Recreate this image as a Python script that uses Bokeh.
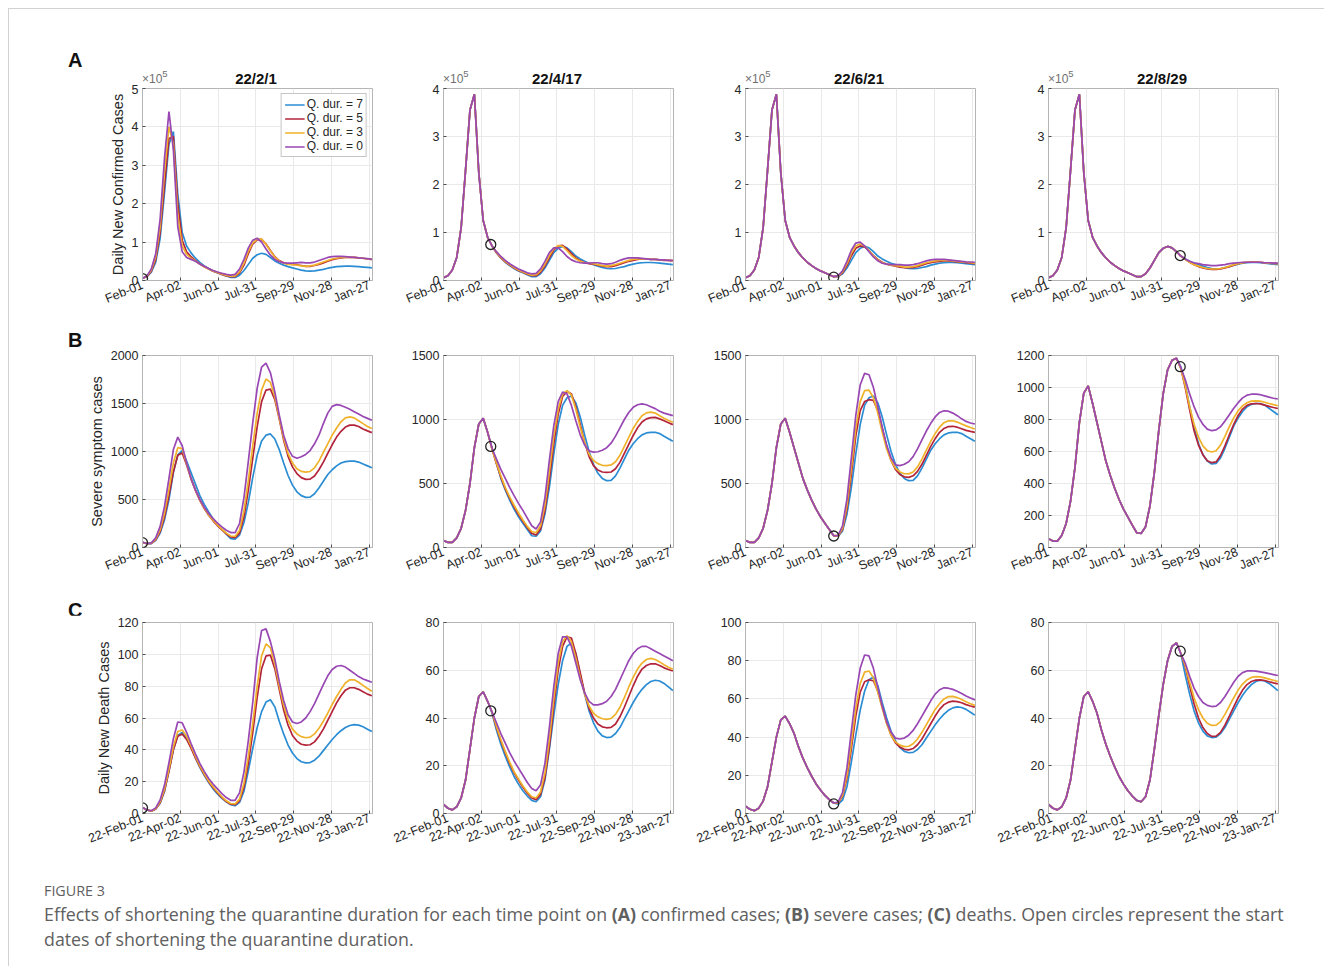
import math
from bokeh.plotting import figure
from bokeh.models import FixedTicker, Div
from bokeh.layouts import row, column
from bokeh.embed import file_html
from bokeh.resources import INLINE

# ---------------- data ----------------
DAYS = list(range(0, 365, 7))  # days since 2022-02-01, weekly samples
TICK_DAYS = [0, 60, 120, 180, 240, 300, 360]
TICK_LABELS_SHORT = ["Feb-01", "Apr-02", "Jun-01", "Jul-31", "Sep-29", "Nov-28", "Jan-27"]
TICK_LABELS_LONG = ["22-Feb-01", "22-Apr-02", "22-Jun-01", "22-Jul-31", "22-Sep-29", "22-Nov-28", "23-Jan-27"]

SERIES_NAMES = ["Q. dur. = 7", "Q. dur. = 5", "Q. dur. = 3", "Q. dur. = 0"]
START_TITLES = ["22/2/1", "22/4/17", "22/6/21", "22/8/29"]
START_DAYS = [0, 75, 140, 209]
CIRCLE_A = [0.05, 0.75, 0.07, 0.52]
CIRCLE_B = [50, 790, 90, 1130]
CIRCLE_C = [3.5, 43, 5, 68]

ROW_LETTERS = ["A", "B", "C"]
Y_LABELS = ["Daily New Confirmed Cases", "Severe symptom cases", "Daily New Death Cases"]
Y_MAX = [[5, 4, 4, 4], [2000, 1500, 1500, 1200], [120, 80, 100, 80]]
Y_STEP = [[1, 1, 1, 1], [500, 500, 500, 200], [20, 20, 20, 20]]
SCALE_NOTE = "×10<span style='position:relative;top:-6px;font-size:9.5px;'>5</span>"

# baseline (Q. dur. = 7); confirmed cases in units of 1e5
BASE_A = [0.06, 0.10, 0.22, 0.48, 1.10, 2.30, 3.55, 3.88, 2.25, 1.25,
          0.90, 0.72, 0.58, 0.47, 0.38, 0.31, 0.25, 0.20, 0.16, 0.12,
          0.08, 0.08, 0.14, 0.26, 0.42, 0.58, 0.67, 0.71, 0.68, 0.60,
          0.51, 0.45, 0.40, 0.36, 0.33, 0.30, 0.27, 0.25, 0.245, 0.25,
          0.27, 0.29, 0.32, 0.34, 0.36, 0.37, 0.375, 0.375, 0.37, 0.36,
          0.35, 0.34, 0.33]
BASE_B = [55, 40, 40, 75, 150, 290, 500, 780, 965, 1010,
          900, 780, 660, 540, 450, 370, 300, 240, 190, 140,
          92, 88, 130, 260, 470, 730, 960, 1110, 1170, 1183,
          1130, 1020, 880, 750, 650, 580, 540, 522, 525, 560,
          620, 690, 760, 810, 850, 880, 895, 900, 900, 890,
          870, 850, 830]
BASE_C = [3.8, 2.2, 1.5, 2.8, 6.5, 14, 27, 40, 49, 51,
          47, 42, 35, 29, 24, 19.5, 15.5, 12.3, 9.5, 7.3,
          5.5, 4.9, 7, 14, 27, 41, 54, 64, 70, 71.5,
          67, 58, 50, 43, 38, 34.5, 32.5, 31.8, 32, 33.5,
          36, 39.5, 43, 46.5, 49.5, 52, 54, 55.3, 55.8, 55.5,
          54.5, 53, 51.5]

# scenario curves after the start date (Q. dur. = 5, 3, 0)
A1_Q5 = [0.06, 0.10, 0.24, 0.55, 1.25, 2.50, 3.70, 3.75, 2.00, 1.05,
         0.75, 0.62, 0.52, 0.43, 0.36, 0.30, 0.24, 0.20, 0.16, 0.12,
         0.10, 0.10, 0.20, 0.40, 0.70, 0.95, 1.06, 1.07, 0.95, 0.78,
         0.62, 0.52, 0.46, 0.43, 0.42, 0.41, 0.39, 0.37, 0.37, 0.39,
         0.42, 0.46, 0.50, 0.54, 0.57, 0.59, 0.60, 0.60, 0.60, 0.59,
         0.58, 0.56, 0.55]
A1_Q3 = [0.06, 0.11, 0.27, 0.62, 1.40, 2.85, 4.00, 3.55, 1.70, 0.90,
         0.68, 0.58, 0.51, 0.43, 0.36, 0.30, 0.25, 0.21, 0.17, 0.13,
         0.11, 0.12, 0.23, 0.45, 0.76, 0.98, 1.08, 1.08, 0.94, 0.77,
         0.61, 0.51, 0.45, 0.42, 0.41, 0.40, 0.38, 0.37, 0.38, 0.40,
         0.44, 0.48, 0.52, 0.56, 0.58, 0.60, 0.60, 0.60, 0.60, 0.59,
         0.58, 0.56, 0.55]
A1_Q0 = [0.06, 0.12, 0.30, 0.70, 1.60, 3.20, 4.40, 3.40, 1.40, 0.75,
         0.60, 0.55, 0.50, 0.43, 0.37, 0.31, 0.26, 0.22, 0.19, 0.16,
         0.14, 0.16, 0.30, 0.55, 0.85, 1.05, 1.10, 1.00, 0.82, 0.66,
         0.55, 0.49, 0.46, 0.45, 0.45, 0.46, 0.47, 0.46, 0.46, 0.48,
         0.52, 0.56, 0.60, 0.62, 0.63, 0.63, 0.62, 0.61, 0.60, 0.59,
         0.58, 0.57, 0.55]
B1_Q5 = [55, 40, 42, 80, 165, 320, 540, 790, 960, 985,
         860, 715, 595, 490, 405, 335, 278, 228, 183, 143,
         110, 102, 150, 320, 600, 930, 1260, 1520, 1640, 1650,
         1540, 1340, 1120, 950, 840, 770, 728, 710, 712, 745,
         810, 890, 980, 1070, 1150, 1210, 1255, 1275, 1275, 1260,
         1235, 1215, 1197]
B1_Q3 = [55, 40, 44, 88, 185, 360, 610, 880, 1040, 1030,
         870, 720, 600, 495, 410, 340, 285, 235, 190, 150,
         120, 115, 180, 380, 700, 1060, 1400, 1640, 1755, 1720,
         1570, 1350, 1140, 980, 880, 820, 793, 785, 792, 830,
         900, 990, 1080, 1170, 1245, 1310, 1350, 1360, 1350, 1320,
         1290, 1260, 1240]
B1_Q0 = [55, 42, 48, 100, 220, 430, 720, 1020, 1150, 1060,
         880, 720, 600, 500, 420, 355, 300, 255, 215, 180,
         155, 155, 250, 520, 900, 1300, 1660, 1880, 1920, 1820,
         1620, 1380, 1170, 1030, 950, 930, 945, 970, 1010, 1080,
         1170, 1290, 1400, 1470, 1488, 1480, 1460, 1440, 1415, 1390,
         1365, 1345, 1325]
C1_Q5 = [3.8, 2.2, 1.5, 2.8, 6.8, 14.5, 26.5, 40, 48.5, 50,
         46.5, 41, 35, 29.5, 24.5, 20, 16.2, 13, 10, 7.5,
         5.8, 5.5, 8, 16.5, 31.5, 51, 73, 91, 99, 99.5,
         91, 78, 65, 55.5, 49, 45.5, 43.5, 43, 43.2, 45,
         48.5, 53, 58.5, 64, 69.5, 74, 77.5, 79, 79, 78,
         76.5, 75, 74]
C1_Q3 = [3.8, 2.2, 1.6, 3.0, 7.3, 15.5, 28, 42, 51.5, 52.5,
         48.5, 42.5, 36, 30, 25, 20.5, 16.8, 13.5, 10.5, 8,
         6.3, 6, 9, 19, 36, 57, 80, 99, 106.5, 104,
         94, 80, 68, 59, 53, 50, 48.3, 47.6, 48, 50,
         53.5, 58, 63, 68.5, 73.5, 78, 82, 84, 84, 82.5,
         80.5, 78.5, 76.8]
C1_Q0 = [3.8, 2.2, 1.8, 3.5, 8.5, 18, 32, 47, 57.5, 57,
         51, 44, 37.5, 31.5, 26.5, 22, 18.5, 15.5, 12.5, 10,
         8.3, 8.3, 13, 26, 46, 70, 98, 115, 116, 108,
         97, 83, 71, 62, 57.5, 56.5, 57.5, 60, 64, 69,
         75, 81, 86.5, 90.5, 92.5, 93, 92, 90, 88, 86,
         84.5, 83.5, 82.5]

A2_Q5 = [0.72, 0.58, 0.47, 0.39, 0.32, 0.26, 0.21, 0.17, 0.13, 0.10,
         0.10, 0.17, 0.30, 0.47, 0.63, 0.72, 0.73, 0.66, 0.56, 0.47,
         0.41, 0.37, 0.35, 0.34, 0.32, 0.30, 0.29, 0.29, 0.31, 0.34,
         0.37, 0.40, 0.42, 0.44, 0.45, 0.45, 0.44, 0.44, 0.43, 0.42,
         0.42, 0.41]
A2_Q3 = [0.72, 0.59, 0.48, 0.40, 0.33, 0.27, 0.22, 0.18, 0.14, 0.11,
         0.12, 0.20, 0.34, 0.52, 0.66, 0.73, 0.71, 0.62, 0.52, 0.45,
         0.40, 0.37, 0.36, 0.35, 0.33, 0.31, 0.30, 0.31, 0.33, 0.36,
         0.39, 0.42, 0.44, 0.45, 0.45, 0.45, 0.44, 0.44, 0.43, 0.43,
         0.42, 0.42]
A2_Q0 = [0.72, 0.60, 0.50, 0.42, 0.35, 0.29, 0.24, 0.20, 0.16, 0.14,
         0.15, 0.24, 0.40, 0.58, 0.68, 0.68, 0.60, 0.50, 0.43, 0.39,
         0.37, 0.36, 0.36, 0.37, 0.37, 0.35, 0.34, 0.35, 0.38, 0.42,
         0.45, 0.47, 0.47, 0.47, 0.46, 0.45, 0.44, 0.44, 0.43, 0.43,
         0.42, 0.42]
B2_Q5 = [770, 655, 550, 460, 385, 318, 258, 205, 155, 110,
         98, 145, 290, 530, 810, 1040, 1180, 1220, 1200, 1100,
         960, 820, 710, 640, 605, 590, 587, 590, 615, 665,
         735, 805, 875, 935, 980, 1005, 1015, 1017, 1005, 990,
         975, 960]
B2_Q3 = [770, 660, 560, 470, 395, 330, 270, 215, 165, 125,
         115, 170, 330, 590, 870, 1080, 1200, 1225, 1190, 1080,
         940, 820, 730, 680, 655, 642, 640, 645, 670, 720,
         790, 860, 930, 985, 1030, 1052, 1057, 1050, 1030, 1010,
         992, 978]
B2_Q0 = [775, 690, 610, 540, 470, 405, 345, 290, 230, 170,
         145, 200, 390, 680, 950, 1140, 1215, 1200, 1110, 990,
         880, 800, 755, 745, 748, 760, 780, 815, 870, 935,
         1000, 1055, 1095, 1115, 1122, 1115, 1100, 1085, 1065, 1050,
         1040, 1030]
C2_Q5 = [42.5, 36, 30.5, 25.5, 21, 17, 14, 11, 8.5, 6.5,
         5.8, 8, 15, 28, 45, 60, 70, 74, 73.5, 67,
         59, 50.5, 44, 40, 37.5, 36.3, 35.9, 36.1, 37.5, 40.5,
         44.5, 49, 53.5, 57.5, 60.5, 62, 62.7, 62.7, 62, 61,
         60.3, 59.7]
C2_Q3 = [42.5, 36.5, 31, 26, 21.5, 17.5, 14.5, 11.5, 9, 7,
         6.5, 9, 17, 31, 48, 63, 72, 74.5, 72, 65,
         57, 50, 45, 42, 40.5, 39.7, 39.4, 39.8, 41.5, 44.5,
         48.5, 53, 57, 60.5, 63, 64.5, 65, 64.5, 63.5, 62.3,
         61.3, 60.4]
C2_Q0 = [42.5, 38, 33.5, 29.5, 25.5, 22, 19, 16, 13, 10.5,
         9.5, 12, 21, 36, 53, 67, 74, 74, 70, 63,
         56, 50.5, 47, 45.5, 45.5, 46, 47, 49, 52, 56,
         60, 64, 67, 69, 70, 70, 69, 68, 67, 66,
         65, 64]

A3_Q5 = [0.08, 0.085, 0.16, 0.31, 0.51, 0.67, 0.72, 0.70, 0.62, 0.52,
         0.44, 0.38, 0.34, 0.32, 0.30, 0.28, 0.27, 0.27, 0.27, 0.29,
         0.32, 0.35, 0.37, 0.39, 0.40, 0.41, 0.41, 0.40, 0.39, 0.38,
         0.37, 0.36, 0.35]
A3_Q3 = [0.08, 0.09, 0.18, 0.35, 0.57, 0.72, 0.76, 0.72, 0.62, 0.51,
         0.43, 0.37, 0.34, 0.32, 0.31, 0.30, 0.28, 0.28, 0.29, 0.31,
         0.34, 0.37, 0.39, 0.41, 0.42, 0.42, 0.42, 0.41, 0.40, 0.39,
         0.38, 0.37, 0.36]
A3_Q0 = [0.08, 0.10, 0.20, 0.40, 0.63, 0.78, 0.80, 0.72, 0.60, 0.49,
         0.41, 0.36, 0.34, 0.33, 0.33, 0.33, 0.32, 0.32, 0.33, 0.35,
         0.38, 0.41, 0.43, 0.44, 0.44, 0.44, 0.43, 0.42, 0.41, 0.40,
         0.39, 0.385, 0.38]
B3_Q5 = [92, 90, 140, 300, 570, 870, 1070, 1140, 1155, 1150,
         1070, 930, 790, 680, 610, 570, 552, 548, 560, 595,
         650, 720, 790, 850, 900, 930, 945, 947, 940, 928,
         915, 907, 900]
B3_Q3 = [92, 92, 150, 330, 620, 930, 1140, 1225, 1230, 1170,
         1050, 900, 770, 680, 620, 590, 576, 575, 590, 630,
         690, 760, 830, 890, 940, 975, 990, 990, 980, 965,
         950, 937, 926]
B3_Q0 = [92, 95, 170, 380, 700, 1030, 1270, 1360, 1350, 1250,
         1100, 940, 800, 700, 645, 640, 650, 670, 710, 770,
         840, 910, 970, 1020, 1055, 1068, 1065, 1050, 1030, 1005,
         985, 973, 965]
C3_Q5 = [5.5, 5.5, 9, 18.5, 34, 51, 63.5, 69, 70, 69.5,
         64, 56, 47.5, 41, 37, 34.8, 33.6, 33.3, 34, 36,
         39, 43, 47, 51, 54.5, 57, 58.3, 58.8, 58.6, 58,
         57, 56.3, 55.7]
C3_Q3 = [5.5, 5.7, 9.5, 20, 37, 55, 68, 74, 74.6, 71,
         63.5, 55, 47, 41, 37.5, 35.8, 35, 35.2, 36.5, 39,
         42.5, 46.5, 50.5, 54.5, 57.5, 60, 61.2, 61.3, 60.7, 59.7,
         58.5, 57.5, 56.6]
C3_Q0 = [5.5, 6, 11, 24, 43, 62, 76, 83, 82.5, 76,
         66, 56, 48, 42.5, 39.5, 39, 39.5, 41, 43.5, 47,
         51, 55, 59, 62.5, 64.8, 65.8, 65.6, 65, 64, 62.8,
         61.5, 60.5, 59.5]

A4_Q5 = [0.51, 0.44, 0.38, 0.33, 0.29, 0.26, 0.24, 0.23, 0.23, 0.24,
         0.26, 0.29, 0.32, 0.35, 0.37, 0.38, 0.385, 0.385, 0.38, 0.37,
         0.36, 0.355, 0.35]
A4_Q3 = [0.51, 0.44, 0.38, 0.33, 0.30, 0.27, 0.25, 0.24, 0.24, 0.25,
         0.27, 0.30, 0.33, 0.35, 0.37, 0.38, 0.38, 0.38, 0.38, 0.37,
         0.36, 0.355, 0.35]
A4_Q0 = [0.51, 0.45, 0.40, 0.37, 0.35, 0.33, 0.32, 0.31, 0.31, 0.32,
         0.33, 0.35, 0.36, 0.37, 0.38, 0.38, 0.38, 0.38, 0.38, 0.37,
         0.37, 0.36, 0.36]
B4_Q5 = [1120, 1000, 860, 730, 640, 580, 542, 530, 535, 575,
         635, 705, 770, 825, 865, 888, 898, 900, 898, 890,
         882, 875, 869]
B4_Q3 = [1120, 1010, 880, 770, 690, 635, 605, 597, 605, 640,
         695, 755, 810, 855, 885, 905, 915, 917, 915, 908,
         900, 893, 886]
B4_Q0 = [1125, 1050, 960, 880, 815, 770, 740, 730, 735, 755,
         790, 830, 870, 905, 935, 952, 958, 958, 955, 948,
         940, 933, 928]
C4_Q5 = [67, 61.5, 53.5, 46, 40, 36, 33.5, 32.3, 32.4, 34,
         37, 40.8, 44.7, 48.5, 51.7, 54, 55.3, 55.9, 56, 55.7,
         55.2, 54.7, 54.3]
C4_Q3 = [67, 62, 55, 48.5, 43.5, 40, 37.8, 36.9, 37, 38.5,
         41.5, 45, 48.5, 51.7, 54.2, 56, 57, 57.3, 57.2, 56.8,
         56.3, 55.8, 55.3]
C4_Q0 = [67, 63, 57.5, 52.5, 49, 46.5, 45.3, 44.8, 45, 46.5,
         49, 52, 55, 57.5, 59, 59.7, 59.8, 59.6, 59.3, 59,
         58.6, 58.2, 57.8]

CAPTION_HEAD = "FIGURE 3"
CAPTION_LINE1 = ("Effects of shortening the quarantine duration for each time point on <b>(A)</b> confirmed cases; "
                 "<b>(B)</b> severe cases; <b>(C)</b> deaths. Open circles represent the start")
CAPTION_LINE2 = "dates of shortening the quarantine duration."

BASES = [BASE_A, BASE_B, BASE_C]
CIRCLES = [CIRCLE_A, CIRCLE_B, CIRCLE_C]
ALTS = [
    [(A1_Q5, A1_Q3, A1_Q0), (A2_Q5, A2_Q3, A2_Q0), (A3_Q5, A3_Q3, A3_Q0), (A4_Q5, A4_Q3, A4_Q0)],
    [(B1_Q5, B1_Q3, B1_Q0), (B2_Q5, B2_Q3, B2_Q0), (B3_Q5, B3_Q3, B3_Q0), (B4_Q5, B4_Q3, B4_Q0)],
    [(C1_Q5, C1_Q3, C1_Q0), (C2_Q5, C2_Q3, C2_Q0), (C3_Q5, C3_Q3, C3_Q0), (C4_Q5, C4_Q3, C4_Q0)],
]

# ---------------- style / layout ----------------
COLORS = ["#2a8dd3", "#b3243b", "#f0b22a", "#9847b3"]
FONT = "Liberation Sans"
TXT = "#262626"
TICK_FS = "12.5px"

COL_W = [382, 303, 301, 323]
COL_BL = [133, 52, 51, 53]
COL_BR = [19, 21, 20, 40]
FRAME_LEFT_LOCAL = [132, 433, 735, 1038]   # frame left edge relative to the text strips
ROW_H = [236, 243, 251]
ROW_BT = [4, 8, 7]
ROW_BB = [40, 43, 53]
STRIP_H = [75, 27, 25]
LETTER_TOP = [41.4, 10.4, 10.4]
STRIP_W = 1315


def full_series(base, alt):
    n = len(DAYS)
    return list(base[: n - len(alt)]) + list(alt)


def abs_text(x, y, text, size, weight="normal", color="#111111", center=False):
    tr = "transform:translateX(-50%);" if center else ""
    return (f'<div style="position:absolute;left:{x}px;top:{y}px;font-family:\'{FONT}\',Arial,sans-serif;'
            f'font-size:{size}px;line-height:{size}px;font-weight:{weight};color:{color};'
            f'white-space:nowrap;{tr}">{text}</div>')


def make_strip(r):
    parts = [abs_text(59, LETTER_TOP[r], ROW_LETTERS[r], 20, "bold")]
    if r == 0:
        for c in range(4):
            cx = FRAME_LEFT_LOCAL[c] + 115
            parts.append(abs_text(cx, 62.3, START_TITLES[c], 15, "bold", "#111111", center=True))
            parts.append(abs_text(FRAME_LEFT_LOCAL[c] + 1, 63.5, SCALE_NOTE, 12, "normal", "#707070"))
    html = (f'<div style="position:relative;width:{STRIP_W}px;height:{STRIP_H[r]}px;">'
            + "".join(parts) + "</div>")
    return Div(text=html, width=STRIP_W, height=STRIP_H[r], margin=0)


def make_panel(r, c):
    ymax = Y_MAX[r][c]
    p = figure(width=COL_W[c], height=ROW_H[r], x_range=(0, 365), y_range=(0, ymax),
               output_backend="svg", toolbar_location=None, title=None,
               min_border_left=COL_BL[c], min_border_right=COL_BR[c],
               min_border_top=ROW_BT[r], min_border_bottom=ROW_BB[r])
    p.background_fill_color = "white"
    p.border_fill_color = "white"
    p.outline_line_color = "#b5b5b5"
    p.outline_line_width = 1

    base = BASES[r]
    q5, q3, q0 = ALTS[r][c]
    curves = [base, full_series(base, q5), full_series(base, q3), full_series(base, q0)]
    for k, ys in enumerate(curves):
        kw = {}
        if r == 0 and c == 0:
            kw["legend_label"] = SERIES_NAMES[k]
        p.line(DAYS[: len(ys)], ys, line_color=COLORS[k], line_width=1.7, **kw)

    p.scatter([START_DAYS[c]], [CIRCLES[r][c]], marker="circle", size=10,
              fill_color=None, line_color="#222222", line_width=1.3)

    p.xaxis.ticker = FixedTicker(ticks=TICK_DAYS)
    labels = TICK_LABELS_LONG if r == 2 else TICK_LABELS_SHORT
    p.xaxis.major_label_overrides = {d: lab for d, lab in zip(TICK_DAYS, labels)}
    p.xaxis.major_label_orientation = math.radians(22)
    step = Y_STEP[r][c]
    p.yaxis.ticker = FixedTicker(ticks=[i * step for i in range(int(ymax / step) + 1)])
    for ax in (p.xaxis[0], p.yaxis[0]):
        ax.axis_line_color = "#b5b5b5"
        ax.major_tick_line_color = "#4d4d4d"
        ax.major_tick_in = 3
        ax.major_tick_out = 0
        ax.minor_tick_line_color = None
        ax.major_label_text_font = FONT
        ax.major_label_text_font_size = TICK_FS
        ax.major_label_text_color = TXT
        ax.major_label_standoff = 4
    p.xgrid.grid_line_color = "#e9e9e9"
    p.ygrid.grid_line_color = "#e9e9e9"

    if c == 0:
        p.yaxis.axis_label = Y_LABELS[r]
        p.yaxis.axis_label_text_font = FONT
        p.yaxis.axis_label_text_font_size = "14.5px"
        p.yaxis.axis_label_text_font_style = "normal"
        p.yaxis.axis_label_text_color = TXT
        p.yaxis.axis_label_standoff = 3

    if r == 0 and c == 0:
        lg = p.legend[0]
        lg.location = "top_right"
        lg.margin = 5
        lg.padding = 3
        lg.spacing = 0
        lg.label_text_font = FONT
        lg.label_text_font_size = "12px"
        lg.label_text_color = TXT
        lg.label_height = 13
        lg.glyph_height = 13
        lg.glyph_width = 20
        lg.label_standoff = 2
        lg.border_line_color = "#8c8c8c"
        lg.background_fill_color = "white"
        lg.background_fill_alpha = 1.0
    return p


items = []
for r in range(3):
    items.append(make_strip(r))
    items.append(row(*[make_panel(r, c) for c in range(4)]))

caption = Div(
    text=(f'<div style="font-family:\'Open Sans\',sans-serif;color:#606060;padding-left:35px;">'
          f'<div style="font-size:14.3px;margin-top:17px;line-height:16px;">{CAPTION_HEAD}</div>'
          f'<div style="font-size:17.8px;line-height:25px;margin-top:3px;white-space:nowrap;">'
          f'{CAPTION_LINE1}<br>{CAPTION_LINE2}</div></div>'),
    width=1309, height=100, margin=0)

layout = column(*items, caption, margin=(8, 0, 0, 8),
                styles={"border-top": "1px solid #d2d2d2", "border-left": "1px solid #d2d2d2"})

open("out.html", "w").write(file_html(layout, INLINE))
